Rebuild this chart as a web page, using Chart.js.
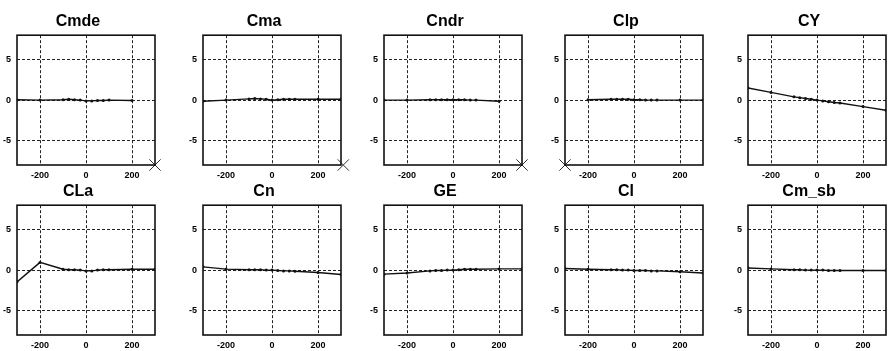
<!DOCTYPE html>
<html>
<head>
<meta charset="utf-8">
<script src="https://cdn.jsdelivr.net/npm/chart.js@4"></script>
<style>
  body { margin: 0; background: #fff; width: 889px; height: 351px; position: relative; overflow: hidden; }
  .cell { position: absolute; }
</style>
</head>
<body>
<script>
// angle sweep shared by every coefficient plot
const alphas = [-300, -200, -100, -75, -50, -25, 0, 25, 50, 75, 100, 200, 300];
const xTicks = [-200, 0, 200];
const yTicks = [-5, 0, 5];

const Cmde  = [0.05, 0, 0.05, 0.1, 0.05, 0, -0.1, -0.1, -0.05, -0.05, 0, -0.05, null];
const Cma   = [-0.15, 0, 0.15, 0.2, 0.15, 0.1, 0, 0.05, 0.1, 0.1, 0.1, 0.1, 0.1];
const Cndr  = [0, 0, 0.05, 0.05, 0.05, 0.05, 0.05, 0.05, 0.05, 0, 0, -0.15, null];
const Clp   = [null, 0.05, 0.1, 0.1, 0.1, 0.1, 0.05, 0.05, 0, 0, 0, 0, 0];
const CY    = [1.5, 0.95, 0.4, 0.3, 0.2, 0.1, 0, -0.1, -0.2, -0.3, -0.35, -0.8, -1.25];
const CLa   = [-1.45, 0.95, 0.1, 0.05, 0.05, 0, -0.1, -0.1, 0, 0.05, 0.05, 0.1, 0.1];
const Cn    = [0.4, 0.12, 0.05, 0.05, 0.05, 0, 0, -0.05, -0.1, -0.1, -0.15, -0.3, -0.55];
const GE    = [-0.5, -0.35, -0.1, -0.05, -0.05, 0, 0, 0.05, 0.1, 0.1, 0.1, 0.15, 0.15];
const Cl    = [0.2, 0.1, 0.05, 0.05, 0, 0, -0.05, -0.05, -0.05, -0.1, -0.1, -0.2, -0.35];
const Cm_sb = [0.25, 0.15, 0.05, 0.05, 0, 0, 0, 0, -0.05, -0.05, -0.05, -0.05, -0.05];

// off-scale flags drawn at the frame corner
const flagCmde = [{ x: 300, y: -8 }];
const flagCma  = [{ x: 310, y: -8 }];
const flagCndr = [{ x: 300, y: -8 }];
const flagClp  = [{ x: -300, y: -8 }];

const plots = [
  { title: "Cmde", values: Cmde, flag: flagCmde, col: 0, row: 0 },
  { title: "Cma", values: Cma, flag: flagCma, col: 1, row: 0 },
  { title: "Cndr", values: Cndr, flag: flagCndr, col: 2, row: 0 },
  { title: "Clp", values: Clp, flag: flagClp, col: 3, row: 0 },
  { title: "CY", values: CY, flag: [], col: 4, row: 0 },
  { title: "CLa", values: CLa, flag: [], col: 0, row: 1 },
  { title: "Cn", values: Cn, flag: [], col: 1, row: 1 },
  { title: "GE", values: GE, flag: [], col: 2, row: 1 },
  { title: "Cl", values: Cl, flag: [], col: 3, row: 1 },
  { title: "Cm_sb", values: Cm_sb, flag: [], col: 4, row: 1 },
];

const colLeft = [17, 203, 384, 565, 748];   // left edge of each frame
const rowTop = [6, 176];
const AXIS_W = 16, AXIS_H = 18, PLOT_W = 138, PLOT_H = 130, TITLE_H = 29.2;

// full black box round the plot area
const frameBox = {
  id: "frameBox",
  afterDraw(chart) {
    const a = chart.chartArea, c = chart.ctx;
    c.save();
    c.strokeStyle = "#111";
    c.lineWidth = 1.6;
    c.strokeRect(a.left, a.top, a.right - a.left, a.bottom - a.top);
    c.restore();
  }
};

const tickFont = { family: "'Liberation Sans', Arial, sans-serif", size: 9, weight: "bold" };

plots.forEach(p => {
  const div = document.createElement("div");
  div.className = "cell";
  const w = AXIS_W + PLOT_W + 10, h = TITLE_H + PLOT_H + AXIS_H;
  div.style.left = (colLeft[p.col] - AXIS_W) + "px";
  div.style.top = rowTop[p.row] + "px";
  const cv = document.createElement("canvas");
  cv.width = w; cv.height = h;
  div.appendChild(cv);
  document.body.appendChild(div);

  new Chart(cv, {
    type: "line",
    data: {
      datasets: [
        {
          data: alphas.map((a, i) => ({ x: a, y: p.values[i] })),
          borderColor: "#111",
          borderWidth: 1.4,
          backgroundColor: "#111",
          pointRadius: 1.5,
          pointBorderWidth: 0,
          tension: 0,
          spanGaps: false,
        },
        {
          type: "scatter",
          data: p.flag,
          pointStyle: "crossRot",
          pointRadius: 8,
          borderColor: "#333",
          borderWidth: 1,
          clip: false,
        }
      ]
    },
    options: {
      responsive: false,
      animation: false,
      devicePixelRatio: 1,
      layout: { padding: { left: 0, right: 10, top: 0, bottom: 0 } },
      plugins: {
        legend: { display: false },
        tooltip: { enabled: false },
        title: {
          display: true,
          text: p.title,
          color: "#000",
          font: { family: "'Liberation Sans', Arial, sans-serif", size: 16, weight: "bold" },
          padding: { top: 6, bottom: 4 },
        },
      },
      scales: {
        x: {
          type: "linear",
          min: -300,
          max: 300,
          afterBuildTicks: s => { s.ticks = xTicks.map(v => ({ value: v })); },
          afterFit: s => { s.height = AXIS_H; },
          ticks: { color: "#000", font: tickFont, padding: 5, maxRotation: 0 },
          grid: { color: "#222", lineWidth: 1, drawTicks: false },
          border: { display: false, dash: [3, 2] },
        },
        y: {
          type: "linear",
          min: -8,
          max: 8,
          afterBuildTicks: s => { s.ticks = yTicks.map(v => ({ value: v })); },
          afterFit: s => { s.width = AXIS_W; },
          ticks: { color: "#000", font: tickFont, padding: 6 },
          grid: { color: "#222", lineWidth: 1, drawTicks: false },
          border: { display: false, dash: [3, 2] },
        },
      },
    },
    plugins: [frameBox],
  });
});
</script>
</body>
</html>
